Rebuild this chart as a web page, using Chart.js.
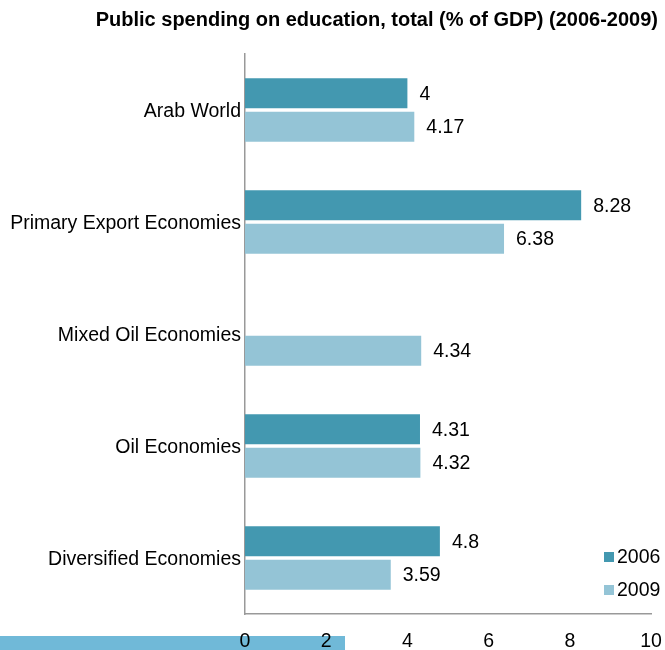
<!DOCTYPE html>
<html lang="en">
<head>
<meta charset="UTF-8">
<title>Public spending on education</title>
<script src="https://cdn.jsdelivr.net/npm/chart.js"></script>
<style>
    body { margin: 0; background: #fff; }
    #wrap { position: relative; width: 665px; height: 650px; }
</style>
</head>
<body>
<div id="wrap">
    <canvas id="grafico" width="665" height="650"></canvas>
</div>
<script>
    const categorias = ["Arab World", "Primary Export Economies", "Mixed Oil Economies", "Oil Economies", "Diversified Economies"];
    const valores2006 = [4, 8.28, null, 4.31, 4.8];
    const valores2009 = [4.17, 6.38, 4.34, 4.32, 3.59];
    const ticksX = [0, 2, 4, 6, 8, 10];

    const fonte = "'Liberation Sans', Arial, sans-serif";
    const tamanho = 19.5;

    // faixa azul no rodape, atras dos rotulos do eixo
    const faixa = {
        id: 'faixa',
        beforeDraw(chart) {
            const c = chart.ctx;
            c.save();
            c.fillStyle = '#70b9d8';
            c.fillRect(0, 636, 345, 14);
            c.restore();
        }
    };

    // titulo, valores ao lado das barras e legenda
    const extras = {
        id: 'extras',
        afterDraw(chart) {
            const c = chart.ctx;
            c.save();
            c.fillStyle = '#000';
            c.font = 'bold 20px ' + fonte;
            c.textAlign = 'right';
            c.textBaseline = 'middle';
            c.fillText('Public spending on education, total (% of GDP) (2006-2009)', 658, 20);

            c.font = tamanho + 'px ' + fonte;
            c.textAlign = 'left';
            chart.data.datasets.forEach((ds, i) => {
                chart.getDatasetMeta(i).data.forEach((bar, j) => {
                    if (ds.data[j] == null) return;
                    c.fillText(String(ds.data[j]), bar.x + 12, bar.y + 1);
                });
            });

            chart.data.datasets.forEach((ds, i) => {
                const y = 557 + i * 33;
                c.fillStyle = ds.backgroundColor;
                c.fillRect(604, y - 5, 10, 10);
                c.fillStyle = '#000';
                c.fillText(ds.label, 617, y + 1);
            });
            c.restore();
        }
    };

    new Chart(document.getElementById('grafico'), {
        type: 'bar',
        data: {
            labels: categorias,
            datasets: [
                { label: '2006', data: valores2006, backgroundColor: '#4398b0', categoryPercentage: 0.6, barPercentage: 0.89 },
                { label: '2009', data: valores2009, backgroundColor: '#94c4d6', categoryPercentage: 0.6, barPercentage: 0.89 }
            ]
        },
        options: {
            indexAxis: 'y',
            responsive: false,
            animation: false,
            layout: { padding: { top: 54, right: 0, left: 0, bottom: 0 } },
            plugins: {
                legend: { display: false },
                title: { display: false },
                tooltip: { enabled: false }
            },
            scales: {
                x: {
                    min: 0,
                    max: 10,
                    afterBuildTicks(scale) { scale.ticks = ticksX.map(v => ({ value: v })); },
                    afterFit(scale) { scale.height = 36; scale.paddingRight = 14; },
                    grid: { display: false, drawTicks: false },
                    border: { color: '#999', width: 1.5 },
                    ticks: { color: '#000', padding: 16, font: { size: tamanho, family: fonte } }
                },
                y: {
                    afterFit(scale) { scale.width = 245; },
                    grid: { display: false, drawTicks: false },
                    border: { color: '#999', width: 1.5 },
                    ticks: { color: '#000', padding: 4, labelOffset: 2, font: { size: tamanho, family: fonte } }
                }
            }
        },
        plugins: [faixa, extras]
    });
</script>
</body>
</html>
